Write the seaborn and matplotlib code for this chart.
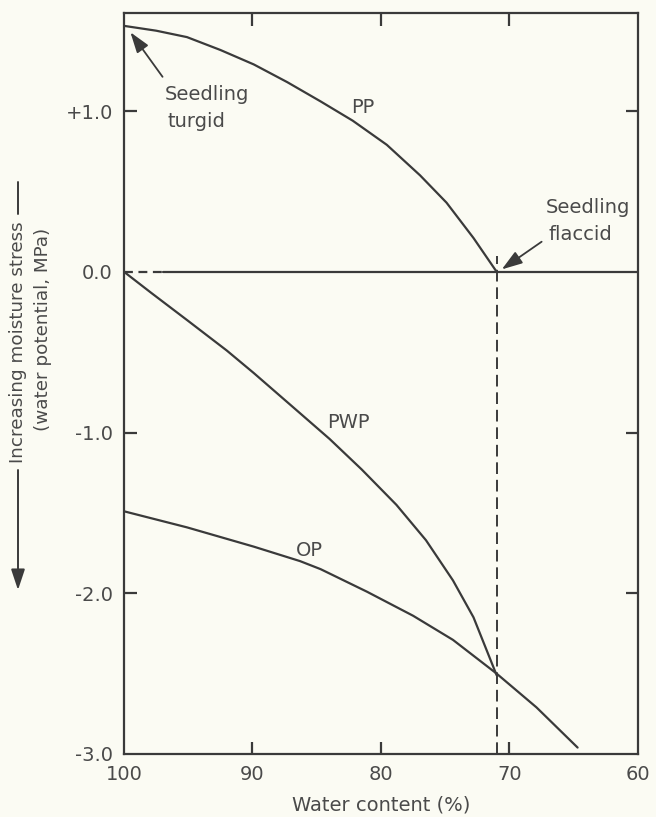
import matplotlib
matplotlib.use("Agg")
import matplotlib.pyplot as plt
import seaborn as sns
import pandas as pd

# ---- data ----
pp_x = [100.0, 97.5, 95.1, 92.5, 89.9, 87.3, 84.7, 82.2, 79.55, 76.96, 74.9, 72.8, 71.0]
pp_y = [1.53, 1.50, 1.46, 1.38, 1.29, 1.18, 1.06, 0.94, 0.79, 0.60, 0.43, 0.21, 0.0]

pwp_x = [100.0, 97.9, 95.1, 92.0, 89.9, 86.3, 84.0, 81.5, 78.8, 76.5, 74.4, 72.8, 71.0]
pwp_y = [0.0, -0.13, -0.30, -0.49, -0.63, -0.88, -1.04, -1.23, -1.45, -1.67, -1.92, -2.15, -2.51]

op_x = [100.0, 95.1, 89.9, 86.3, 84.7, 81.1, 77.5, 74.4, 71.0, 67.9, 64.7]
op_y = [-1.49, -1.59, -1.71, -1.80, -1.85, -1.99, -2.14, -2.29, -2.50, -2.71, -2.96]

flaccid_wc = 71.0
x_ticks = [100, 90, 80, 70, 60]
y_ticks = [1.0, 0.0, -1.0, -2.0, -3.0]
y_tick_labels = ["+1.0", "0.0", "-1.0", "-2.0", "-3.0"]

BG = "#fbfbf3"
INK = "#3a3a3a"
TXT = "#4a4a4a"

sns.set_style("ticks")
plt.rcParams["font.family"] = ["DejaVu Sans"]

fig = plt.figure(figsize=(6.56, 8.17), dpi=100, facecolor=BG)
ax = fig.add_axes([124 / 656, 1 - 754 / 817, (638 - 124) / 656, (754 - 13) / 817])
ax.set_facecolor(BG)

df = pd.concat([
    pd.DataFrame({"wc": pp_x, "psi": pp_y, "curve": "PP"}),
    pd.DataFrame({"wc": pwp_x, "psi": pwp_y, "curve": "PWP"}),
    pd.DataFrame({"wc": op_x, "psi": op_y, "curve": "OP"}),
])
sns.lineplot(data=df, x="wc", y="psi", units="curve", estimator=None, sort=False,
             color=INK, lw=1.6, ax=ax, legend=False)

# zero line: dashed near the axis, then solid
ax.plot([100, 97.0], [0, 0], color=INK, lw=1.6, ls=(0, (4, 2.5)))
ax.plot([97.0, 60], [0, 0], color=INK, lw=1.6)
# vertical dashed line at flaccid point
ax.plot([flaccid_wc, flaccid_wc], [-3.0, 0.1], color=INK, lw=1.4, ls=(0, (6, 3)))

ax.set_xlim(100, 60)
ax.set_ylim(-3.0, 1.61)
ax.set_xticks(x_ticks)
ax.set_xticklabels([str(t) for t in x_ticks])
ax.set_yticks(y_ticks)
ax.set_yticklabels(y_tick_labels)

for s in ax.spines.values():
    s.set_visible(True)
    s.set_color(INK)
    s.set_linewidth(1.6)

ax.tick_params(axis="both", direction="in", length=9, width=1.6, color=INK,
               labelsize=14, labelcolor=TXT, pad=8,
               top=True, right=True)
# hide ticks at the corners (100/60 and -3.0) and at 0.0
for t in ax.xaxis.get_major_ticks():
    if t.get_loc() in (100, 60):
        t.tick1line.set_visible(False)
        t.tick2line.set_visible(False)
for t in ax.yaxis.get_major_ticks():
    if t.get_loc() in (-3.0, 0.0):
        t.tick1line.set_visible(False)
        t.tick2line.set_visible(False)

ax.set_xlabel("Water content (%)", fontsize=14, color=TXT, labelpad=8)
ax.set_ylabel("")

# curve labels
kw = dict(fontsize=14, color=TXT, ha="left", va="baseline")
ax.text(82.3, 0.99, "PP", **kw)
ax.text(84.2, -0.97, "PWP", **kw)
ax.text(86.6, -1.77, "OP", **kw)
ax.text(96.8, 1.07, "Seedling", **kw)
ax.text(96.6, 0.90, "turgid", **kw)
ax.text(67.2, 0.367, "Seedling", **kw)
ax.text(67.0, 0.20, "flaccid", **kw)

arrow_kw = dict(arrowstyle="-|>,head_length=0.9,head_width=0.3", color=INK, lw=1.3,
                shrinkA=0, shrinkB=0, mutation_scale=14)
ax.annotate("", xy=(99.5, 1.49), xytext=(97.0, 1.213), arrowprops=arrow_kw)
ax.annotate("", xy=(70.6, 0.015), xytext=(67.5, 0.187), arrowprops=arrow_kw)

# y-axis label with arrow
fig.text(18 / 656, 1 - 342 / 817, "Increasing moisture stress", rotation=90,
         ha="center", va="center", fontsize=13.2, color=TXT)
fig.text(43 / 656, 1 - 329 / 817, "(water potential, MPa)", rotation=90,
         ha="center", va="center", fontsize=13.2, color=TXT)
fig.add_artist(plt.Line2D([18 / 656, 18 / 656], [1 - 182 / 817, 1 - 214 / 817],
                          transform=fig.transFigure, color=INK, lw=1.4))
fig.patches.append(matplotlib.patches.FancyArrowPatch(
    (18 / 656, 1 - 470 / 817), (18 / 656, 1 - 590 / 817),
    transform=fig.transFigure, arrowstyle="-|>,head_length=0.9,head_width=0.3",
    color=INK, lw=1.4, mutation_scale=14, shrinkA=0, shrinkB=0))

fig.savefig("out.png", dpi=100, facecolor=BG)
